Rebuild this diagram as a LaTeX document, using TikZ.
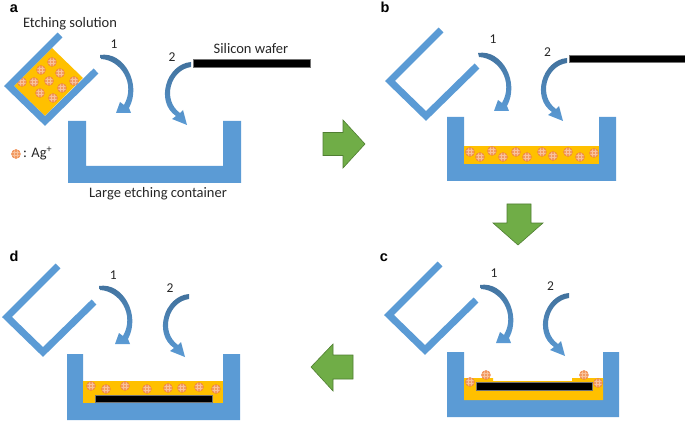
\documentclass[tikz,border=0pt]{standalone}
\usepackage{fontspec}
\setmainfont{Carlito}
\newfontfamily\labfont{Liberation Sans}
\definecolor{wallblue}{HTML}{5B9BD5}
\definecolor{arrdark}{HTML}{41719C}
\definecolor{arrlight}{HTML}{5B9BD5}
\definecolor{liquid}{HTML}{FFC000}
\definecolor{ionfill}{HTML}{F29A62}
\definecolor{ionedge}{HTML}{EE8040}
\definecolor{iongrid}{HTML}{F8C29C}
\definecolor{stepgreen}{HTML}{70AD47}
\definecolor{stepedge}{HTML}{507E32}
\tikzset{
  txt/.style={inner sep=0pt, anchor=base, font=\fontsize{14.5}{17}\selectfont, text=black!85},
  num/.style={inner sep=0pt, anchor=base, font=\fontsize{13.5}{16}\selectfont, text=black!85},
  panel/.style={inner sep=0pt, anchor=base, font=\labfont\bfseries\fontsize{14.5}{17}\selectfont},
  wall/.style={fill=wallblue},
  waferbar/.style={fill=black, draw=black!55, line width=0.6pt},
  greenarrow/.style={fill=stepgreen, draw=stepedge, line width=0.6pt, line join=miter},
  ion/.pic={
    \begin{scope}
      \clip (0,0) circle (4.5);
      \fill[ionfill] (0,0) circle (4.5);
      \draw[iongrid, line width=0.5pt] (-1.6,-5)--(-1.6,5) (1.6,-5)--(1.6,5) (-5,-1.6)--(5,-1.6) (-5,1.6)--(5,1.6);
    \end{scope}
    \draw[ionedge, line width=0.4pt] (0,0) circle (4.5);
  },
  beakerU/.pic={
    \draw[wallblue, line width=7pt, line join=miter, line cap=butt] (51,-51) -- (0,0) -- (36,35) -- (87,-15);
  },
  curvone/.pic={
    \shade[top color=arrdark, bottom color=arrlight]
      (100,55) .. controls (124,51) and (142,84) .. (129,108) -- (131,113) -- (116,113) -- (120,102) -- (124,105)
      .. controls (136,84) and (121,60) .. (101,59) -- cycle;
  },
  curvtwo/.pic={
    \shade[top color=arrdark, bottom color=arrlight]
      (191,62) .. controls (166,64) and (155,102) .. (176,116) -- (172,119) -- (187,125) -- (183,110) -- (180,113)
      .. controls (162,100) and (170,70) .. (191,67) -- cycle;
  }
}
\begin{document}
\begin{tikzpicture}[x=1pt,y=-1pt]
\useasboundingbox (0,0) rectangle (685,422);

% ================= panel a =================
\node[panel] (la) at (14,13) {a};
\node[txt] (etch) at (70,27.5) {Etching solution};
\fill[liquid] (14,86) -- (52,48) -- (83,78) -- (45,116) -- cycle;
\foreach \p in {(52,62),(41,70),(60,73),(22,82),(34,82),(49,81),(74,81),(62,88),(40,93),(53,98)}
  \pic at \p {ion};
\pic at (9,86) {beakerU};
\pic at (16,154) {ion};
\node[txt, anchor=base west] (leg) at (23,157.3) {: Ag\textsuperscript{+}};
\fill[wall] (68,121) -- (86,121) -- (86,166) -- (223,166) -- (223,121) -- (241,121) -- (241,183) -- (68,183) -- cycle;
\node[txt] (cont) at (158,197) {Large etching container};
\fill[waferbar] (193,59) rectangle (310,67);
\node[txt] (si) at (251,53.5) {Silicon wafer};
\pic at (0,0) {curvone};
\pic at (0,0) {curvtwo};
\node[num] (a1) at (114,49) {1};
\node[num] (a2) at (172,61.5) {2};

% ================= panel b =================
\node[panel] (lb) at (385,13) {b};
\pic at (390,81) {beakerU};
\fill[wall] (447,117) -- (464,117) -- (464,164) -- (599,164) -- (599,117) -- (616,117) -- (616,181) -- (447,181) -- cycle;
\fill[liquid] (464,146) rectangle (599,164);
\foreach \p in {(470,152),(480,157),(492,151),(503,157),(516,152),(527,157),(542,152),(553,156),(568,152),(580,157),(594,153)}
  \pic at \p {ion};
\fill[waferbar] (569,55) rectangle (685,62);
\pic at (378,-2) {curvone};
\pic at (376,-4) {curvtwo};
\node[num] (b1) at (493,44) {1};
\node[num] (b2) at (547.5,56.5) {2};

% ================= panel c =================
\node[panel] (lc) at (384,261) {c};
\pic at (389,315) {beakerU};
\fill[wall] (447,352) -- (464,352) -- (464,400) -- (603,400) -- (603,352) -- (619,352) -- (619,417) -- (447,417) -- cycle;
\fill[liquid] (464,378) -- (493,378) -- (493,381) -- (572,381) -- (572,378) -- (603,378) -- (603,400) -- (464,400) -- cycle;
\fill[waferbar] (476,382) rectangle (592,390);
\foreach \p in {(470,382),(486,375),(584,375),(598,383)}
  \pic at \p {ion};
\pic at (380,230) {curvone};
\pic at (378,231) {curvtwo};
\node[num] (c1) at (494,277.3) {1};
\node[num] (c2) at (550.5,290.7) {2};

% ================= panel d =================
\node[panel] (ld) at (14,261) {d};
\pic at (7,317) {beakerU};
\fill[wall] (67,354) -- (83,354) -- (83,403) -- (223,403) -- (223,354) -- (240,354) -- (240,420) -- (67,420) -- cycle;
\fill[liquid] (83,381) rectangle (223,403);
\fill[waferbar] (95,395) rectangle (212,402);
\foreach \p in {(91,386),(106,389),(125,386),(147,389),(168,388),(182,388),(199,387),(216,389)}
  \pic at \p {ion};
\pic at (-1,231) {curvone};
\pic at (-2,232) {curvtwo};
\node[num] (d1) at (113.3,279) {1};
\node[num] (d2) at (170,292.3) {2};

% ================= step arrows =================
\draw[greenarrow] (323,132.5) -- (343,132.5) -- (343,120) -- (365,144) -- (343,168) -- (343,155.5) -- (323,155.5) -- cycle;
\draw[greenarrow] (507,204) -- (531,204) -- (531,223) -- (543,223) -- (518,245) -- (493,223) -- (507,223) -- cycle;
\draw[greenarrow] (353,355) -- (333,355) -- (333,344) -- (311,367) -- (333,391) -- (333,379) -- (353,379) -- cycle;
\end{tikzpicture}
\end{document}
